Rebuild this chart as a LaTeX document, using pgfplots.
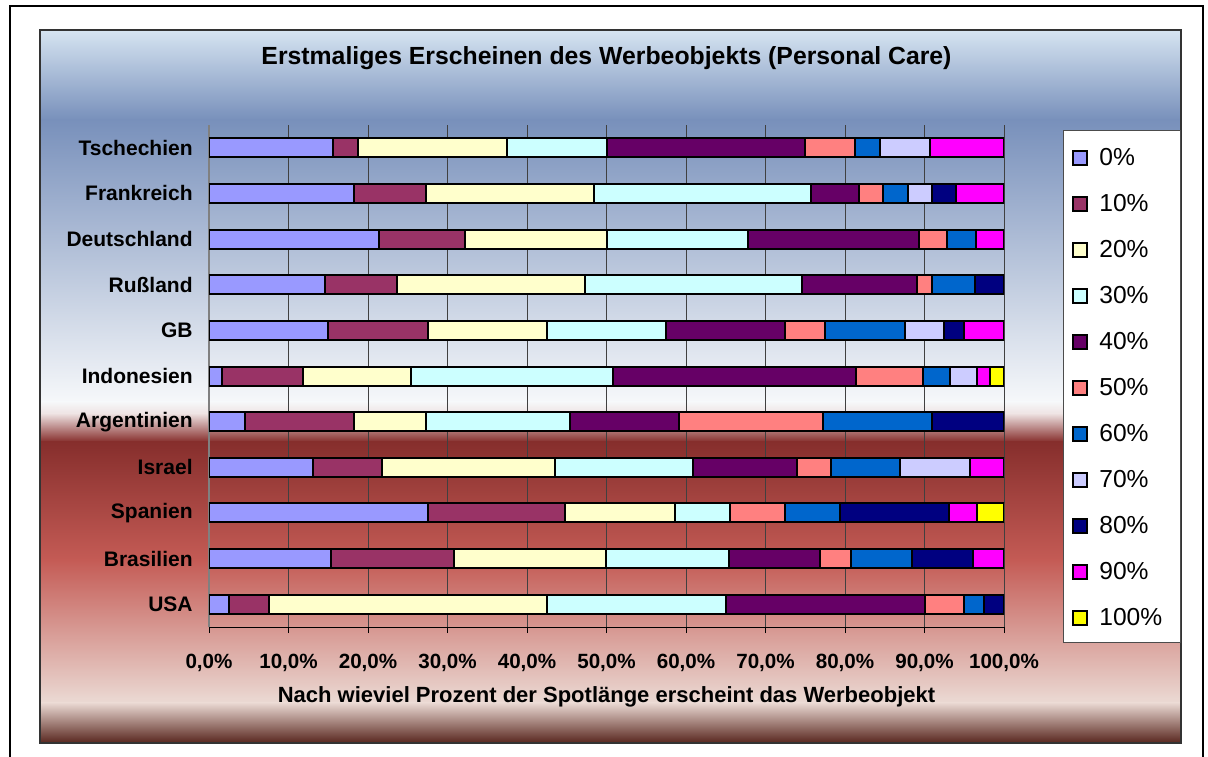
\documentclass[border=0pt]{standalone}
\usepackage{fontspec}
\setmainfont{Liberation Sans}
\usepackage{pgfplots}
\pgfplotsset{compat=1.18}
\usepackage{pgfplotstable}

\definecolor{c0}{HTML}{9999FF}
\definecolor{c10}{HTML}{993366}
\definecolor{c20}{HTML}{FFFFCC}
\definecolor{c30}{HTML}{CCFFFF}
\definecolor{c40}{HTML}{660066}
\definecolor{c50}{HTML}{FF8080}
\definecolor{c60}{HTML}{0066CC}
\definecolor{c70}{HTML}{CCCCFF}
\definecolor{c80}{HTML}{000080}
\definecolor{c90}{HTML}{FF00FF}
\definecolor{c100}{HTML}{FFFF00}

% background bands
\definecolor{bgA}{HTML}{D6E4F1}
\definecolor{bgB}{HTML}{7890BB}
\definecolor{bgC}{HTML}{F6F8FA}
\definecolor{bgD}{HTML}{EEE2E2}
\definecolor{bgE}{HTML}{862E2C}
\definecolor{bgF}{HTML}{C45B55}
\definecolor{bgG}{HTML}{EBDAD4}
\definecolor{bgH}{HTML}{58261E}

% share of spots per country (bottom row = USA)
\pgfplotstableread{
pos c0    c10   c20   c30   c40   c50   c60   c70  c80   c90  c100
0   2.50  5.00  35.00 22.50 25.00 5.00  2.50  0    2.50  0    0
1   15.38 15.38 19.23 15.38 11.54 3.85  7.69  0    7.69  3.85 0
2   27.59 17.24 13.79 6.90  0     6.90  6.90  0    13.79 3.45 3.45
3   13.04 8.70  21.74 17.39 13.04 4.35  8.70  8.70 0     4.35 0
4   4.55  13.64 9.09  18.18 13.64 18.18 13.64 0    9.09  0    0
5   1.69  10.17 13.56 25.42 30.51 8.47  3.39  3.39 0     1.69 1.69
6   15.00 12.50 15.00 15.00 15.00 5.00  10.00 5.00 2.50  5.00 0
7   14.55 9.09  23.64 27.27 14.55 1.82  5.45  0    3.64  0    0
8   21.43 10.71 17.86 17.86 21.43 3.57  3.57  0    0     3.57 0
9   18.18 9.09  21.21 27.27 6.06  3.03  3.03  3.03 3.03  6.06 0
10  15.62 3.13  18.75 12.50 25.00 6.25  3.13  6.25 0     9.37 0
}\datatable

\pgfplotsset{bsh/.style={fill=#1, draw=black, line width=1pt}}

\begin{document}
\begin{tikzpicture}
\useasboundingbox (0,0) rectangle (604pt,378pt);
\begin{scope}[x=0.5pt,y=-0.5pt,yshift=378pt]
  \fill[white] (0,0) rectangle (1208,756);
  \draw[line width=1pt] (10,770) -- (10,6) -- (1203,6) -- (1203,770);
  \shade[top color=bgA, bottom color=bgB] (40,30) rectangle (1181,120);
  \shade[top color=bgB, bottom color=bgC] (40,119.5) rectangle (1181,402);
  \shade[top color=bgC, bottom color=bgD] (40,401.5) rectangle (1181,414);
  \shade[top color=bgD, bottom color=bgE] (40,413.5) rectangle (1181,442);
  \shade[top color=bgE, bottom color=bgF] (40,441.5) rectangle (1181,560);
  \shade[top color=bgF, bottom color=bgG] (40,559.5) rectangle (1181,703);
  \shade[top color=bgG, bottom color=bgH] (40,702.5) rectangle (1181,743);
  \draw[black!80, line width=0.75pt] (40,30) rectangle (1181,743);
  \draw[fill=white, draw=black!70, line width=0.5pt] (1063,131) rectangle (1180,642);
\end{scope}

\begin{axis}[
  at={(104.5pt,64.5pt)}, anchor=south west,
  scale only axis, width=397.5pt, height=251pt,
  xbar stacked, bar width=9.5pt,
  xmin=0, xmax=100, ymin=-0.5, ymax=10.5,
  axis x line*=bottom, axis y line*=left,
  x axis line style={black, line width=0.5pt},
  y axis line style={black!50, line width=1pt},
  xtick={0,10,...,100},
  xticklabel={\pgfmathprintnumber[fixed,fixed zerofill,precision=1,use comma]{\tick}\%},
  /pgf/number format/assume math mode=true,
  ytick={0,...,10},
  yticklabels={USA,Brasilien,Spanien,Israel,Argentinien,Indonesien,GB,Rußland,Deutschland,Frankreich,Tschechien},
  tick align=outside, major tick length=3pt,
  xtick style={black, line width=0.5pt},
  ytick style={draw=none},
  xmajorgrids, grid style={black!75, line width=0.5pt},
  xticklabel style={font=\fontsize{10.3}{12}\selectfont\bfseries, inner sep=0pt, anchor=north, yshift=-10.5pt},
  yticklabel style={font=\fontsize{10.5}{12}\selectfont\bfseries, inner sep=0pt, anchor=east, xshift=-5pt},
  xlabel={Nach wieviel Prozent der Spotlänge erscheint das Werbeobjekt},
  xlabel style={at={(axis description cs:0.5,-0.1394)}, anchor=center, font=\fontsize{11}{13}\selectfont\bfseries},
  title={Erstmaliges Erscheinen des Werbeobjekts (Personal Care)},
  title style={at={(axis description cs:0.5,1.1096)}, anchor=center, font=\fontsize{12.4}{15}\selectfont\bfseries},
  legend image code/.code={\draw[#1, line width=1pt] (0pt,-3.5pt) rectangle (7pt,3.5pt);},
  legend style={at={(1.0855,0.9801)}, anchor=north west, draw=none, fill=none,
    font=\fontsize{12.3}{14}\selectfont, inner sep=0pt, row sep=0pt, column sep=5.5pt,
    nodes={inner sep=0pt, minimum height=23pt}},
  legend cell align=left,
]
\addplot[bsh=c0]   table[x=c0,y=pos]{\datatable};   \addlegendentry{0\%}
\addplot[bsh=c10]  table[x=c10,y=pos]{\datatable};  \addlegendentry{10\%}
\addplot[bsh=c20]  table[x=c20,y=pos]{\datatable};  \addlegendentry{20\%}
\addplot[bsh=c30]  table[x=c30,y=pos]{\datatable};  \addlegendentry{30\%}
\addplot[bsh=c40]  table[x=c40,y=pos]{\datatable};  \addlegendentry{40\%}
\addplot[bsh=c50]  table[x=c50,y=pos]{\datatable};  \addlegendentry{50\%}
\addplot[bsh=c60]  table[x=c60,y=pos]{\datatable};  \addlegendentry{60\%}
\addplot[bsh=c70]  table[x=c70,y=pos]{\datatable};  \addlegendentry{70\%}
\addplot[bsh=c80]  table[x=c80,y=pos]{\datatable};  \addlegendentry{80\%}
\addplot[bsh=c90]  table[x=c90,y=pos]{\datatable};  \addlegendentry{90\%}
\addplot[bsh=c100] table[x=c100,y=pos]{\datatable}; \addlegendentry{100\%}
\end{axis}
\end{tikzpicture}
\end{document}
